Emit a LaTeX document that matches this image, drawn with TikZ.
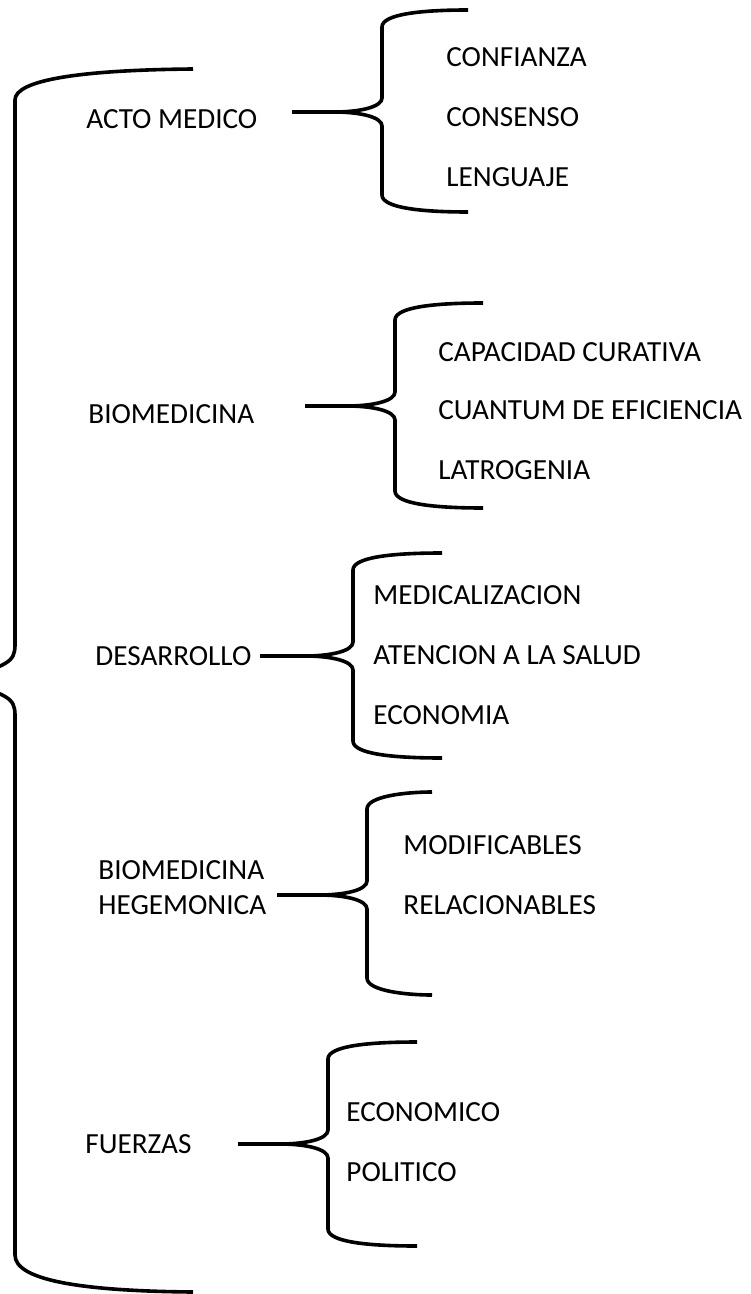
\documentclass[tikz,border=0pt]{standalone}
\usepackage{fontspec}
\setmainfont{Carlito}

\newcommand{\llave}[6]{%
  \draw[llave] (#6,#3) .. controls (#2+40,#3) and (#2,#3+4) .. (#2,#3+17)
    -- (#2,#4-14) .. controls (#2,#4-5) and (#2-22,#4) .. (#2-48,#4) -- (#1,#4);
  \draw[llave] (#1,#4) -- (#2-48,#4) .. controls (#2-22,#4) and (#2,#4+5) .. (#2,#4+14)
    -- (#2,#5-17) .. controls (#2,#5-4) and (#2+40,#5) .. (#6,#5);}

\begin{document}
\begin{tikzpicture}[x=0.5pt,y=-0.5pt,
    llave/.style={line width=1.8pt,line join=round},
    txt/.style={anchor=west,inner sep=0pt,text height=9.3pt,text depth=0pt,font=\fontsize{14.6}{17}\selectfont}]
      \clip (0,0) rectangle (750,1294);

      % llave grande
      \draw[llave] (193,69) .. controls (80,70) and (15,80) .. (15,100) -- (15,645)
        .. controls (15,662) and (8,666) .. (-45,680);
      \draw[llave] (-45,680) .. controls (8,694) and (15,698) .. (15,715) -- (15,1255)
        .. controls (15,1280) and (80,1291) .. (193,1292);

      \draw (86,119) node[txt] (acto) {ACTO MEDICO};
      \draw (446,57) node[txt] (confianza) {CONFIANZA};
      \draw (446,117) node[txt] (consenso) {CONSENSO};
      \draw (446,177) node[txt] (lenguaje) {LENGUAJE};
      \llave{292}{382}{10}{112}{212}{468}

      \draw (88,414) node[txt] (biomedicina) {BIOMEDICINA};
      \draw (438,352) node[txt] (capacidad) {CAPACIDAD CURATIVA};
      \draw (438,410) node[txt] (cuantum) {CUANTUM DE EFICIENCIA};
      \draw (438,470) node[txt] (latrogenia) {LATROGENIA};
      \llave{305}{395}{303}{406}{508}{483}

      \draw (95,656) node[txt] (desarrollo) {DESARROLLO};
      \draw (373,595) node[txt] (medicalizacion) {MEDICALIZACION};
      \draw (373,655) node[txt] (atencion) {ATENCION A LA SALUD};
      \draw (373,715) node[txt] (economia) {ECONOMIA};
      \llave{260}{353}{553}{656}{758}{442}

      \draw (98,870) node[txt] (biomedhege) {BIOMEDICINA};
      \draw (98,905) node[txt] (hegemonica) {HEGEMONICA};
      \draw (403,845) node[txt] (modificables) {MODIFICABLES};
      \draw (403,905) node[txt] (relacionables) {RELACIONABLES};
      \llave{277}{367}{792}{895}{995}{432}

      \draw (85,1144) node[txt] (fuerzas) {FUERZAS};
      \draw (346,1112) node[txt] (economico) {ECONOMICO};
      \draw (346,1172) node[txt] (politico) {POLITICO};
      \llave{238}{328}{1042}{1144}{1246}{417}
    \end{tikzpicture}
\end{document}
